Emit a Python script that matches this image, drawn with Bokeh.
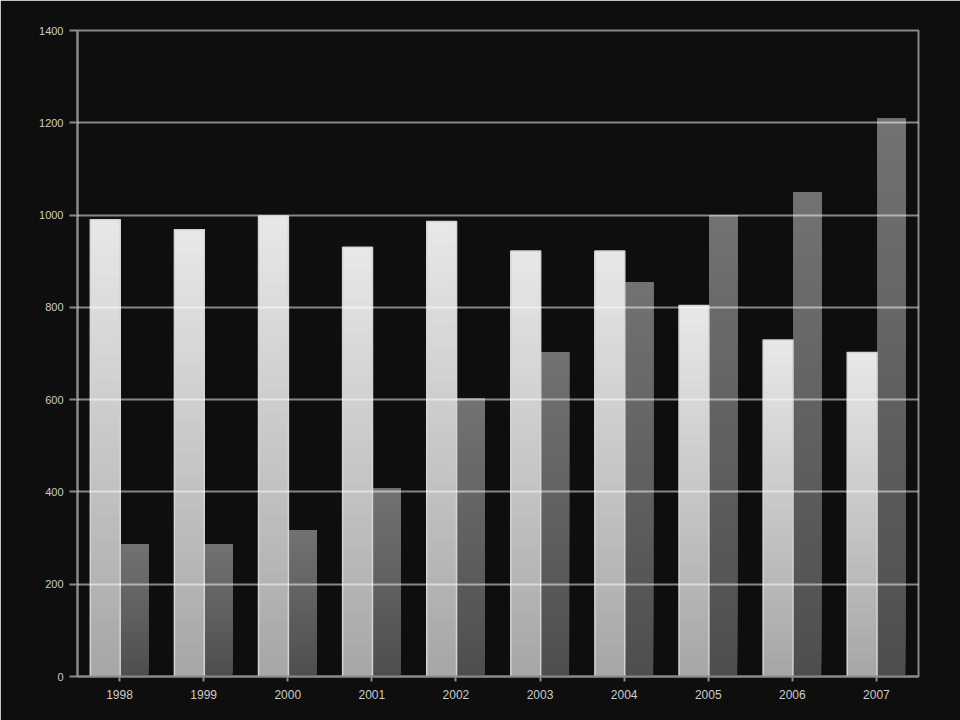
from bokeh.plotting import figure
from bokeh.models import ColumnDataSource, FactorRange, FixedTicker
from bokeh.transform import dodge
from bokeh.embed import file_html
from bokeh.resources import INLINE

years = ["1998", "1999", "2000", "2001", "2002", "2003", "2004", "2005", "2006", "2007"]
series_a = [990, 968, 998, 930, 986, 922, 922, 804, 729, 702]
series_b = [287, 287, 317, 407, 602, 703, 854, 1000, 1049, 1209]
y_ticks = [0, 200, 400, 600, 800, 1000, 1200, 1400]

BG = "#0e0e0e"
N_BANDS = 40


def lerp_hex(c0, c1, t):
    a = [int(c0[i:i + 2], 16) for i in (1, 3, 5)]
    b = [int(c1[i:i + 2], 16) for i in (1, 3, 5)]
    return "#" + "".join("%02x" % int(round(a[k] + (b[k] - a[k]) * t)) for k in range(3))


def band_source(values, c_bottom, c_top):
    # overlapping bands (each reaches the bar top) so no seams appear
    xs, bots, tops, cols = [], [], [], []
    for i in range(N_BANDS):
        for yr, v in zip(years, values):
            xs.append(yr)
            bots.append(v * i / N_BANDS)
            tops.append(v)
            cols.append(lerp_hex(c_bottom, c_top, (i + 0.5) / N_BANDS))
    return ColumnDataSource(dict(x=xs, bottom=bots, top=tops, color=cols))


p = figure(
    x_range=FactorRange(*years, range_padding=0),
    y_range=(0, 1400),
    width=960, height=720,
    output_backend="svg", toolbar_location=None,
    background_fill_color=BG, border_fill_color=BG,
    min_border_left=77, min_border_right=42, min_border_top=30, min_border_bottom=44,
)
p.outline_line_color = "#8a8a8a"
p.outline_line_width = 2

src_a = band_source(series_a, "#a6a6a6", "#e8e8e8")
src_b = band_source(series_b, "#4e4e4e", "#727272")

p.vbar(x=dodge("x", -0.17, range=p.x_range), bottom="bottom", top="top", width=0.355,
       source=src_a, fill_color="color", line_color=None)
p.vbar(x=dodge("x", 0.18, range=p.x_range), bottom="bottom", top="top", width=0.33,
       source=src_b, fill_color="color", line_color=None)

# bright edges on the light bars
outline = ColumnDataSource(dict(x=years, top=series_a))
p.vbar(x=dodge("x", -0.17, range=p.x_range), top="top", bottom=0, width=0.355,
       source=outline, fill_alpha=0, line_color="#d4d4d4", line_width=1.5)

p.ygrid.ticker = FixedTicker(ticks=y_ticks)
p.yaxis.ticker = FixedTicker(ticks=y_ticks)
p.ygrid.grid_line_color = "#ffffff"
p.ygrid.grid_line_alpha = 0.5
p.ygrid.grid_line_width = 2
p.ygrid.level = "overlay"
p.xgrid.grid_line_color = None

for ax in (p.xaxis, p.yaxis):
    ax.axis_line_color = "#8a8a8a"
    ax.axis_line_width = 2
    ax.major_tick_line_color = "#8a8a8a"
    ax.major_tick_line_width = 2
    ax.minor_tick_line_color = None
    ax.major_tick_in = 0
    ax.major_label_text_color = "#cccccc"
    ax.major_label_text_font = "Liberation Sans"

p.yaxis.major_tick_out = 8
p.yaxis.major_label_text_font_size = "11px"
p.yaxis.major_label_standoff = 6
p.xaxis.major_tick_out = 5
p.xaxis.major_label_text_font_size = "12px"
p.xaxis.major_label_standoff = 8

html = file_html(p, INLINE)
html = html.replace("<body>", '<body style="background-color:%s;">' % BG, 1)
open("out.html", "w").write(html)
